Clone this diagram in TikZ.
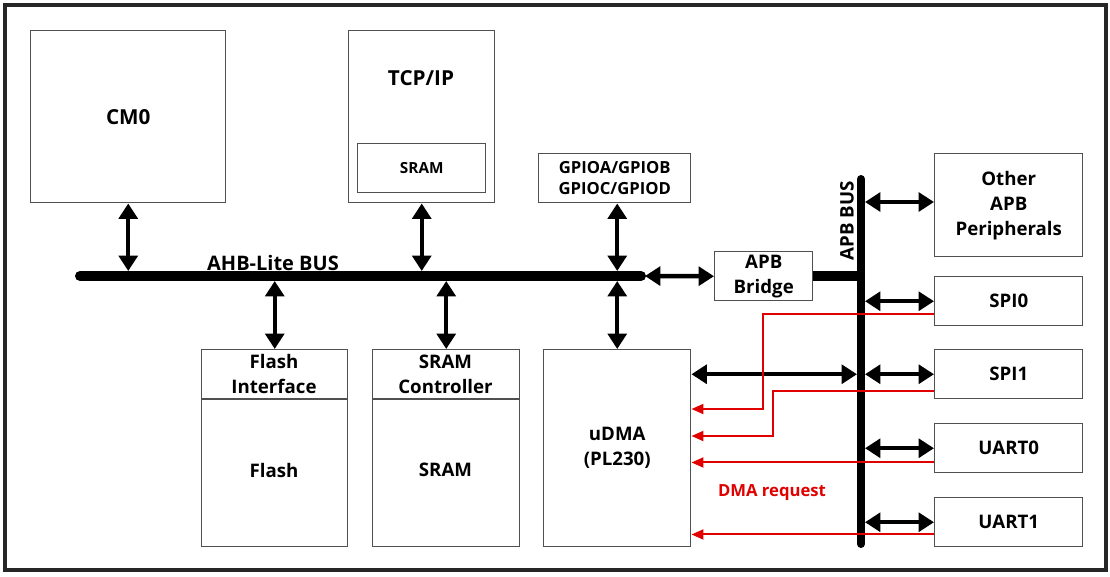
\documentclass[tikz,border=0pt]{standalone}
\usepackage{fontspec}
\setmainfont{Open Sans}
\usetikzlibrary{arrows.meta,calc}
\definecolor{boxline}{HTML}{505050}
\definecolor{reqred}{HTML}{E00000}
\tikzset{
  box/.style={draw=boxline, line width=1.1pt, fill=white, inner sep=0pt, align=center},
  rect/.style n args={4}{at={(#1,#2)}, anchor=north west,
     minimum width={(#3-#1)*0.75pt}, minimum height={(#4-#2)*0.75pt}},
  bigtxt/.style={font=\bfseries\fontsize{15.5pt}{19pt}\selectfont},
  midtxt/.style={font=\bfseries\fontsize{14pt}{18.75pt}\selectfont},
  smalltxt/.style={font=\bfseries\fontsize{11.5pt}{15.75pt}\selectfont},
  gpiotxt/.style={font=\bfseries\fontsize{12.5pt}{15.75pt}\selectfont},
  bi/.style={line width=3.3pt, {Triangle[width=14pt,length=11.5pt]}-{Triangle[width=14pt,length=11.5pt]}},
  req/.style={draw=reqred, line width=1.5pt, -{Triangle[width=7.5pt,length=9pt]}},
  busline/.style={line width=7.5pt, line cap=round},
  apbline/.style={line width=6pt, line cap=round},
  divider/.style={draw=boxline, line width=1.1pt},
}
\begin{document}
\begin{tikzpicture}[x=0.75pt,y=-0.75pt]
\useasboundingbox (0,0) rectangle (1110,576);
\draw[draw=black!85, line width=2.4pt] (5,5) rectangle (1106,570);

% top row
\node[box, bigtxt, rect={30}{30}{225}{202}] (cm0) {CM0};
\node[box, rect={348}{30}{494}{202}] (tcp) {};
\node[bigtxt] (tcplbl) at (421,78) {TCP/IP};
\node[box, smalltxt, rect={357}{143}{485}{192}] (tsram) {SRAM};
\node[box, gpiotxt, rect={538}{153}{690}{202}] (gpio) {GPIOA/GPIOB\\GPIOC/GPIOD};

% bottom row
\node[box, rect={201}{349}{347}{546}] (flash) {};
\draw[divider] (201,399) -- (347,399);
\node[midtxt, align=center] (flashif) at (274,374) {Flash\\Interface};
\node[midtxt] (flashlbl) at (274,470) {Flash};
\node[box, rect={372}{349}{519}{546}] (sramc) {};
\draw[divider] (372,399) -- (519,399);
\node[midtxt, align=center] (sramclbl) at (445.5,374) {SRAM\\Controller};
\node[midtxt] (sramlbl) at (445.5,470) {SRAM};
\node[box, midtxt, rect={543}{349}{690}{546}] (udma) {uDMA\\(PL230)};

% bridge and peripherals
\node[box, midtxt, rect={714}{251}{812}{300}] (bridge) {APB\\Bridge};
\node[box, midtxt, rect={934}{153}{1082}{256}] (other) {Other\\APB\\Peripherals};
\node[box, midtxt, rect={934}{276}{1082}{325}] (spi0) {SPI0};
\node[box, midtxt, rect={934}{349}{1082}{398}] (spi1) {SPI1};
\node[box, midtxt, rect={934}{423}{1082}{472}] (uart0) {UART0};
\node[box, midtxt, rect={934}{497}{1082}{546}] (uart1) {UART1};

% buses
\coordinate (ahbL) at (80,276);
\coordinate (ahbR) at (641,276);
\coordinate (ahbtop) at (0,271);
\coordinate (ahbbot) at (0,281);
\draw[busline] (ahbL) -- (ahbR);
\node[font=\bfseries\fontsize{15pt}{18pt}\selectfont] (ahblbl) at (273,263) {AHB-Lite BUS};

\coordinate (apbT) at (861,179);
\coordinate (apbB) at (861,544);
\coordinate (apbRt) at (865,0);
\coordinate (apbLt) at (857,0);
\draw[apbline] (apbT) -- (apbB);
\draw[line width=7.5pt] (bridge.east) -- (apbT |- bridge.east);
\node[midtxt, rotate=90] (apblbl) at (847,221) {APB BUS};

% AHB connections
\draw[bi] (cm0.south) -- (cm0.south |- ahbtop);
\draw[bi] (tcp.south) -- (tcp.south |- ahbtop);
\draw[bi] (gpio.south -| udma.north) -- (udma.north |- ahbtop);
\draw[bi] (flash.north) -- (flash.north |- ahbbot);
\draw[bi] (sramc.north) -- (sramc.north |- ahbbot);
\draw[bi] (udma.north) -- (udma.north |- ahbbot);
\draw[bi] ($(ahbR)+(4,0)$) -- (bridge.west);

% APB connections
\coordinate (oy) at (0,202);
\draw[bi] (apbRt |- oy) -- (other.west |- oy);
\draw[bi] (apbRt |- spi0.west) -- (spi0.west);
\draw[bi] (apbRt |- spi1.west) -- (spi1.west);
\draw[bi] (apbRt |- uart0.west) -- (uart0.west);
\draw[bi] (apbRt |- uart1.west) -- (uart1.west);
\draw[bi] (udma.east |- spi1.west) -- (apbLt |- spi1.west);

% DMA requests
\coordinate (s0) at ($(spi0.south west)+(0,-12)$);
\coordinate (s1) at ($(spi1.south west)+(0,-8)$);
\coordinate (u0) at ($(uart0.south west)+(0,-11)$);
\coordinate (u1) at ($(uart1.south west)+(0,-13)$);
\coordinate (r0) at (763,409);
\coordinate (r1) at (773,436);
\draw[req] (s0) -| (r0) -- (r0 -| udma.east);
\draw[req] (s1) -| (r1) -- (r1 -| udma.east);
\draw[req] (u0) -- (u0 -| udma.east);
\draw[req] (u1) -- (u1 -| udma.east);
\node[font=\bfseries\fontsize{12.5pt}{15pt}\selectfont, text=reqred] (dmalbl) at (772,493) {DMA request};
\end{tikzpicture}
\end{document}
